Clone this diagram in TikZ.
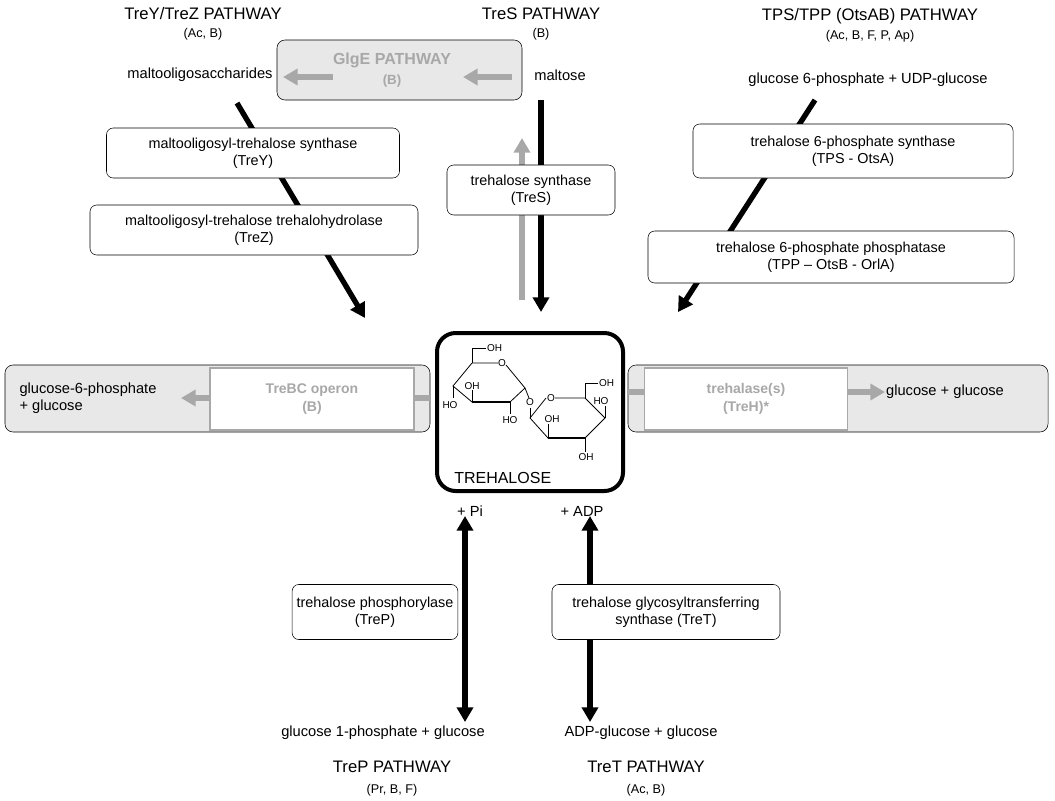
\documentclass[tikz,border=0pt]{standalone}
\usepackage{fontspec}
\setmainfont{Liberation Sans}
\usetikzlibrary{arrows.meta,positioning}
\definecolor{bandgray}{gray}{0.91}
\definecolor{arrgray}{gray}{0.66}
\begin{document}
\begin{tikzpicture}[x=0.75pt,y=-0.75pt,
enzbox/.style={draw=black, fill=white, rounded corners=5pt, align=center, font=\fontsize{10.8}{13}\selectfont},
graybox/.style={draw=arrgray, fill=white, thick, align=center, text=arrgray, font=\fontsize{10.5}{13}\bfseries},
band/.style={draw=black, fill=bandgray, rounded corners=6pt},
title/.style={font=\fontsize{12.5}{14}\selectfont},
orgs/.style={font=\fontsize{9.5}{11}\selectfont},
chem/.style={font=\fontsize{11}{13}\selectfont, align=left},
fat/.style={line width=4pt, -{Triangle[length=11pt,width=12pt]}},
fatgray/.style={line width=4pt, arrgray, -{Triangle[length=11pt,width=12pt]}},
dfat/.style={line width=4pt, {Triangle[length=11pt,width=12pt]}-{Triangle[length=11pt,width=12pt]}},
oh/.style={font=\fontsize{7.5}{8}\selectfont, inner sep=0.5pt},
]
\useasboundingbox (0,0) rectangle (1055,800);

%Titles
\node[title] (tTreY) at (203,14) {TreY/TreZ PATHWAY};
\node[orgs]  (oTreY) at (203,34) {(Ac, B)};
\node[title] (tTreS) at (541,14) {TreS PATHWAY};
\node[orgs]  (oTreS) at (541,34) {(B)};
\node[title] (tTPS)  at (870,16) {TPS/TPP (OtsAB) PATHWAY};
\node[orgs]  (oTPS)  at (870,36) {(Ac, B, F, P, Ap)};
\node[title] (tTreP) at (392,767) {TreP PATHWAY};
\node[orgs]  (oTreP) at (392,790) {(Pr, B, F)};
\node[title] (tTreT) at (646,767) {TreT PATHWAY};
\node[orgs]  (oTreT) at (646,790) {(Ac, B)};

%GlgE
\draw[band] (277,40) rectangle (522,100);
\node[text=arrgray, font=\fontsize{12}{14}\bfseries] (glge) at (392,60) {GlgE PATHWAY};
\node[text=arrgray, font=\fontsize{10}{12}\bfseries] (glgeorg) at (392,81) {(B)};
\coordinate (g1a) at (333,77); \coordinate (g1b) at (283,77);
\coordinate (g2a) at (512,77); \coordinate (g2b) at (463,77);
\draw[fatgray] (g1a) -- (g1b);
\draw[fatgray] (g2a) -- (g2b);

%Substrates
\node[chem] (malto)  at (200,75) {maltooligosaccharides};
\node[chem] (maltose) at (560,75) {maltose};
\node[chem] (g6p) at (868,80) {glucose 6-phosphate + UDP-glucose};
\node[chem] (g1p) at (383,733) {glucose 1-phosphate + glucose};
\node[chem] (adpg) at (641,733) {ADP-glucose + glucose};
\node[chem] (pi) at (470,511) {+ Pi};
\node[chem] (adp) at (582,511) {+ ADP};

%Center
\draw[line width=3pt, rounded corners=14pt] (437,333) rectangle (623,491);
\node[font=\fontsize{12}{14}\selectfont, anchor=west, inner sep=0pt] (tre) at (454,478) {TREHALOSE};

%Side bands
\draw[band] (5,365) rectangle (430,432);
\draw[band] (628,365) rectangle (1048,432);
\coordinate (lin) at (430,398);
\coordinate (lout) at (181,398);
\coordinate (rin) at (628,392);
\coordinate (rout) at (885,392);
\draw[fatgray] (lin) -- (lout);
\draw[fatgray] (rin) -- (rout);
\node[graybox, minimum width=204*0.75pt, minimum height=62*0.75pt] (trebc) at (312,399) {TreBC operon\\(B)};
\node[graybox, minimum width=203*0.75pt, minimum height=62*0.75pt] (treh) at (746,399) {trehalase(s)\\(TreH)*};
\node[chem] (gg6p) at (88,398) {glucose-6-phosphate\\+ glucose};
\node[chem] (gg) at (945,392) {glucose + glucose};

%Arrows to trehalose
\coordinate (yA) at (237,103); \coordinate (yB) at (365,318);
\coordinate (sA) at (541,100); \coordinate (sB) at (541,312);
\coordinate (sC) at (522,300); \coordinate (sD) at (522,138);
\coordinate (pA) at (815,100); \coordinate (pB) at (678,312);
\draw[fat] (yA) -- (yB);
\draw[fatgray] (sC) -- (sD);
\draw[fat] (sA) -- (sB);
\draw[fat] (pA) -- (pB);
\coordinate (tpA) at (465,516); \coordinate (tpB) at (465,722);
\coordinate (ttA) at (590,516); \coordinate (ttB) at (590,722);
\draw[dfat] (tpA) -- (tpB);
\draw[dfat] (ttA) -- (ttB);

%Enzymes
\node[enzbox, minimum width=293*0.75pt, minimum height=50*0.75pt] (treY) at (253,153) {maltooligosyl-trehalose synthase\\(TreY)};
\node[enzbox, minimum width=328*0.75pt, minimum height=50*0.75pt] (treZ) at (254,230) {maltooligosyl-trehalose trehalohydrolase\\(TreZ)};
\node[enzbox, minimum width=168*0.75pt, minimum height=50*0.75pt] (treS) at (531,190) {trehalose synthase\\(TreS)};
\node[enzbox, minimum width=320*0.75pt, minimum height=54*0.75pt] (tps) at (853,151) {trehalose 6-phosphate synthase\\(TPS - OtsA)};
\node[enzbox, minimum width=366*0.75pt, minimum height=52*0.75pt] (tpp) at (831,257) {trehalose 6-phosphate phosphatase\\(TPP -- OtsB - OrlA)};
\node[enzbox, minimum width=146*0.75pt, minimum height=55*0.75pt] (treP) at (375,612) {trehalose phosphorylase\\(TreP)};
\node[enzbox, minimum width=228*0.75pt, minimum height=55*0.75pt] (treT) at (666,612) {trehalose glycosyltransferring\\synthase (TreT)};

%Sugar
\begin{scope}[line width=0.6pt]
\draw (472,363) -- (498,363) (506,365) -- (525,388) -- (510,402) -- (472,402) -- (453,386) -- (472,363);
\draw[line width=1.6pt] (472,402) -- (510,402);
\node[oh] at (502,363) {O};
\draw (472,363) -- (472,348) -- (486,348); \node[oh, anchor=west] at (486,348) {OH};
\draw (453,386) -- (453,398); \node[oh] at (450,405) {HO};
\draw (472,402) -- (472,390); \node[oh] at (472,386) {OH};
\draw (510,402) -- (510,414); \node[oh] at (510,420) {HO};
\draw (525,388) -- (529,398); \node[oh] at (530,402) {O};
\draw (530,408) -- (530,418);
\draw (530,418) -- (546,398) (555,398) -- (585,398) -- (605,418) -- (585,438) -- (548,438) -- (530,418);
\draw[line width=1.6pt] (548,438) -- (585,438);
\node[oh] at (551,398) {O};
\draw (585,398) -- (585,383) -- (598,383); \node[oh, anchor=west] at (598,383) {OH};
\draw (605,418) -- (605,406); \node[oh] at (601,401) {HO};
\draw (548,438) -- (548,424); \node[oh] at (552,419) {OH};
\draw (585,438) -- (585,452); \node[oh] at (586,457) {OH};
\end{scope}
\end{tikzpicture}
\end{document}
